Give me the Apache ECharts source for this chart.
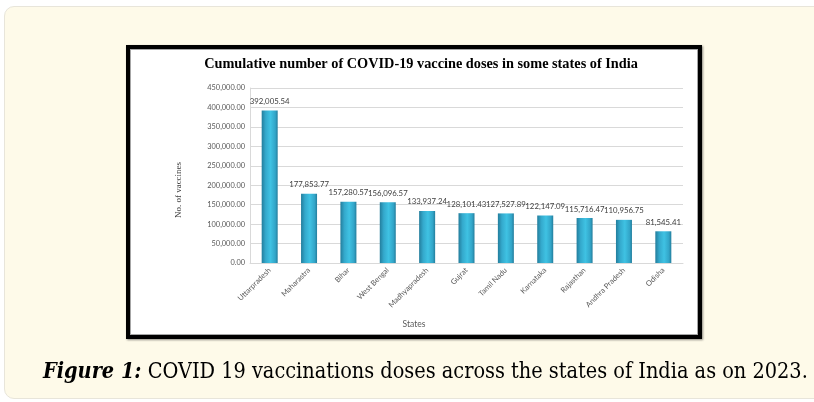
<!DOCTYPE html>
<html>
<head>
<meta charset="utf-8">
<script src="https://cdn.jsdelivr.net/npm/echarts@6/dist/echarts.min.js"></script>
<style>
  html, body { margin: 0; padding: 0; background: #ffffff; }
  #page { position: relative; width: 814px; height: 402px; overflow: hidden; }
  #panel {
    position: absolute; left: 4px; top: 6px; width: 840px; height: 393px;
    background: #fefae9; border: 1.5px solid #e8e5da; border-radius: 10px;
    box-sizing: border-box;
  }
  #frame {
    position: absolute; left: 126px; top: 45px; width: 576px; height: 294px;
    background: #ffffff; border: 4px solid #000000; box-sizing: border-box;
    box-shadow: 1px 1px 2px rgba(0,0,0,0.45);
  }
  #frame::after {
    content: ""; position: absolute; left: 0; top: 0; right: 0; bottom: 0;
    border: 1px solid #a6a6a6;
  }
  #chart { position: absolute; left: 0; top: 0; width: 814px; height: 402px; }
</style>
</head>
<body>
<div id="page">
  <div id="panel"></div>
  <div id="frame"></div>
  <div id="chart"></div>
</div>
<script>
// States and cumulative vaccine doses
const states = ['Uttarpradesh', 'Maharastra', 'Bihar', 'West Bengal', 'Madhyapradesh',
  'Gujrat', 'Tamil Nadu', 'Karnataka', 'Rajasthan', 'Andhra Pradesh', 'Odisha'];
const doses = [392005.54, 177853.77, 157280.57, 156096.57, 133937.24,
  128101.43, 127527.89, 122147.09, 115716.47, 110956.75, 81545.41];

const chartTitle = 'Cumulative number of COVID-19 vaccine doses in some states of India';
const yAxisTitle = 'No. of vaccines';
const xAxisTitle = 'States';
const captionLead = 'Figure 1:';
const captionText = ' COVID 19 vaccinations doses across the states of India as on 2023.';

function fmt(v) {
  const parts = Number(v).toFixed(2).split('.');
  parts[0] = parts[0].replace(/\B(?=(\d{3})+(?!\d))/g, ',');
  return parts.join('.');
}

const chart = echarts.init(document.getElementById('chart'), null, { renderer: 'canvas' });

chart.setOption({
  backgroundColor: 'transparent',
  animation: false,
  title: {
    text: chartTitle,
    left: 416,
    top: 52,
    textAlign: 'center',
    textStyle: { fontFamily: 'Liberation Serif', fontWeight: 'bold', fontSize: 14.3, color: '#000000' }
  },
  grid: { left: 250, right: 131, top: 88, bottom: 139, containLabel: false },
  xAxis: {
    type: 'category',
    data: states,
    axisLine: { lineStyle: { color: '#d9d9d9' } },
    axisTick: { show: false },
    axisLabel: {
      interval: 0, rotate: 45, margin: 6,
      fontFamily: 'Lato', fontSize: 7.5, color: '#595959'
    }
  },
  yAxis: {
    type: 'value',
    min: 0, max: 450000, interval: 50000,
    axisLine: { show: true, lineStyle: { color: '#d9d9d9' } },
    axisTick: { show: false },
    splitLine: { lineStyle: { color: '#d9d9d9', width: 1 } },
    axisLabel: {
      margin: 5, fontFamily: 'Lato', fontSize: 7.4, color: '#595959',
      formatter: fmt
    }
  },
  series: [{
    type: 'bar',
    data: doses,
    barWidth: 16,
    itemStyle: {
      color: new echarts.graphic.LinearGradient(0, 0, 1, 0, [
        { offset: 0, color: '#237d9c' },
        { offset: 0.25, color: '#34a9cc' },
        { offset: 0.55, color: '#3fc2e3' },
        { offset: 0.85, color: '#32a5c8' },
        { offset: 1, color: '#237d9c' }
      ])
    },
    label: {
      show: true, position: 'top', distance: 5,
      fontFamily: 'Lato', fontSize: 7.8, color: '#404040',
      formatter: p => fmt(p.value)
    }
  }],
  graphic: [
    {
      type: 'text', x: 179, y: 190, rotation: Math.PI / 2, z: 10,
      style: {
        text: yAxisTitle, fontFamily: 'Liberation Serif', fontSize: 9,
        fill: '#404040', align: 'center', verticalAlign: 'middle'
      }
    },
    {
      type: 'text', x: 414, y: 324, z: 10,
      style: {
        text: xAxisTitle, fontFamily: 'Lato', fontSize: 8.5,
        fill: '#595959', align: 'center', verticalAlign: 'middle'
      }
    },
    {
      type: 'text', x: 43, y: 372, z: 10,
      style: {
        text: '{b|' + captionLead + '}{n|' + captionText + '}',
        verticalAlign: 'middle',
        rich: {
          b: { fontFamily: 'DejaVu Serif Condensed', fontStyle: 'italic', fontWeight: 'bold', fontSize: 21.5, fill: '#000000' },
          n: { fontFamily: 'DejaVu Serif Condensed', fontSize: 21.5, fill: '#000000' }
        }
      }
    }
  ]
});
</script>
</body>
</html>
